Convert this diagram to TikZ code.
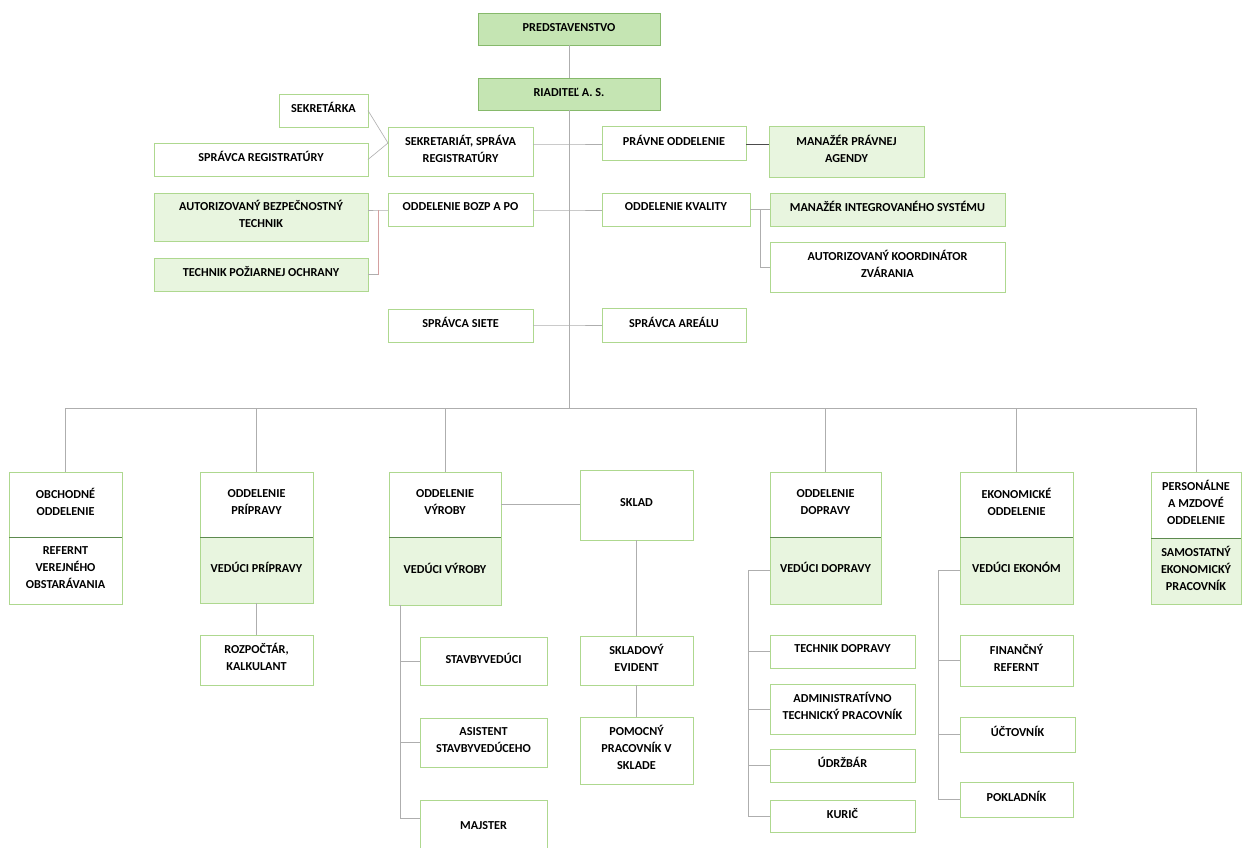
\documentclass[tikz,border=0pt]{standalone}
\usepackage{fontspec}
\setmainfont{Carlito}
\usetikzlibrary{calc}
\definecolor{bordergreen}{HTML}{AED88F}
\definecolor{topfill}{HTML}{C5E5B3}
\definecolor{topdraw}{HTML}{86B96B}
\definecolor{lightfill}{HTML}{E8F5DF}
\definecolor{divider}{HTML}{5D8A4F}
\definecolor{conn}{HTML}{AEAEAE}
\definecolor{pinkconn}{HTML}{D4A0A0}
\newcommand{\orgfont}{\fontsize{12.2}{17}\selectfont\bfseries}
\newcommand{\orgbox}[7]{%
  \pgfmathsetmacro{\obw}{#5-#3}\pgfmathsetmacro{\obh}{#6-#4}%
  \node[#1, minimum width=\obw pt, minimum height=\obh pt, anchor=north west] (#2) at (#3,#4) {#7};}
\begin{document}
\begin{tikzpicture}[x=1pt,y=-1pt,
  box/.style={draw=bordergreen, line width=0.7pt, fill=white, align=center, inner sep=2pt, outer sep=0pt, font=\orgfont, text depth=6pt},
  gbox/.style={box, fill=lightfill},
  tbox/.style={box, fill=topfill, draw=topdraw, line width=1pt, text depth=3pt},
  link/.style={draw=conn, line width=0.6pt},
  darklink/.style={draw=black!70, line width=1pt},
  pinklink/.style={draw=pinkconn, line width=0.6pt},
  divline/.style={draw=divider, line width=1pt}]
\useasboundingbox[fill=white] (0,0) rectangle (1245,847);

% --- top ---
\orgbox{tbox}{pred}{478}{13}{660}{45}{PREDSTAVENSTVO}
\orgbox{tbox}{riad}{478}{78}{660}{110}{RIADITEĽ A. S.}

\orgbox{box}{sekr}{279}{94}{368}{127}{SEKRETÁRKA}
\orgbox{box}{sreg}{154}{143}{368}{176}{SPRÁVCA REGISTRATÚRY}
\orgbox{box}{sekt}{388}{127}{533}{176}{SEKRETARIÁT, SPRÁVA\\REGISTRATÚRY}
\orgbox{box}{prav}{602}{126}{746}{160}{PRÁVNE ODDELENIE}
\orgbox{gbox}{manp}{769}{126}{924}{177}{MANAŽÉR PRÁVNEJ\\AGENDY}

\orgbox{box}{bozp}{388}{193}{533}{226}{ODDELENIE BOZP A PO}
\orgbox{gbox}{abt}{154}{193}{368}{241}{AUTORIZOVANÝ BEZPEČNOSTNÝ\\TECHNIK}
\orgbox{gbox}{tpo}{154}{258}{368}{291}{TECHNIK POŽIARNEJ OCHRANY}
\orgbox{box}{kval}{602}{193}{750}{226}{ODDELENIE KVALITY}
\orgbox{gbox}{mis}{770}{193}{1005}{226}{MANAŽÉR INTEGROVANÉHO SYSTÉMU}
\orgbox{box}{akz}{770}{242}{1005}{292}{AUTORIZOVANÝ KOORDINÁTOR\\ZVÁRANIA}

\orgbox{box}{ssie}{388}{309}{533}{342}{SPRÁVCA SIETE}
\orgbox{box}{sare}{602}{308}{746}{342}{SPRÁVCA AREÁLU}

% --- departments ---
\orgbox{box}{obch}{9}{472}{122}{537}{OBCHODNÉ\\ODDELENIE}
\orgbox{box}{obchh}{9}{537}{122}{604}{REFERNT\\VEREJNÉHO\\OBSTARÁVANIA}
\orgbox{box}{prip}{200}{472}{313}{537}{ODDELENIE\\PRÍPRAVY}
\orgbox{gbox}{priph}{200}{537}{313}{603}{VEDÚCI PRÍPRAVY}
\orgbox{box}{vyr}{389}{472}{501}{537}{ODDELENIE\\VÝROBY}
\orgbox{gbox}{vyrh}{389}{537}{501}{605}{VEDÚCI VÝROBY}
\orgbox{box}{sklad}{580}{470}{693}{540}{SKLAD}
\orgbox{box}{dopr}{770}{472}{881}{537}{ODDELENIE\\DOPRAVY}
\orgbox{gbox}{doprh}{770}{537}{881}{604}{VEDÚCI DOPRAVY}
\orgbox{box}{ekon}{960}{472}{1073}{537}{EKONOMICKÉ\\ODDELENIE}
\orgbox{gbox}{ekonh}{960}{537}{1073}{604}{VEDÚCI EKONÓM}
\orgbox{box}{pers}{1151}{472}{1241}{538}{PERSONÁLNE\\A MZDOVÉ\\ODDELENIE}
\orgbox{gbox}{persh}{1151}{538}{1241}{604}{SAMOSTATNÝ\\EKONOMICKÝ\\PRACOVNÍK}

\foreach \n in {obchh,priph,vyrh,doprh,ekonh,persh}
  \draw[divline] (\n.north west) -- (\n.north east);

% --- subordinates ---
\orgbox{box}{rozp}{200}{635}{313}{685}{ROZPOČTÁR,\\KALKULANT}
\orgbox{box}{stav}{420}{637}{547}{685}{STAVBYVEDÚCI}
\orgbox{box}{asis}{420}{718}{547}{767}{ASISTENT\\STAVBYVEDÚCEHO}
\orgbox{box}{majs}{420}{800}{547}{856}{MAJSTER}
\orgbox{box}{skev}{580}{636}{693}{685}{SKLADOVÝ\\EVIDENT}
\orgbox{box}{pomo}{580}{717}{693}{784}{POMOCNÝ\\PRACOVNÍK V\\SKLADE}
\orgbox{box}{tdop}{770}{635}{915}{668}{TECHNIK DOPRAVY}
\orgbox{box}{admi}{770}{684}{915}{734}{ADMINISTRATÍVNO\\TECHNICKÝ PRACOVNÍK}
\orgbox{box}{udrz}{770}{749}{915}{782}{ÚDRŽBÁR}
\orgbox{box}{kuri}{770}{800}{915}{832}{KURIČ}
\orgbox{box}{finr}{960}{635}{1073}{686}{FINANČNÝ\\REFERNT}
\orgbox{box}{uctv}{960}{717}{1075}{752}{ÚČTOVNÍK}
\orgbox{box}{pokl}{960}{782}{1073}{817}{POKLADNÍK}

% --- spine coordinates ---
\coordinate (s1) at (569,144);
\coordinate (s2) at (569,210);
\coordinate (s3) at (569,325);
\coordinate (busL) at (65.5,408);
\coordinate (busR) at (1196,408);
\coordinate (busC) at (569,408);
\coordinate (sektin) at (388,143);
\coordinate (b1) at (378,210);
\coordinate (k1) at (760,209.5);
\coordinate (v1) at (400,605);
\coordinate (d1) at (748,570.5);
\coordinate (e1) at (938,570.5);

% --- connectors ---
\draw[link] (pred.south) -- (riad.north);
\draw[link] (riad.south) -- (busC);
\draw[link] (busL) -- (busR);

\draw[link] (sekr.east) -- (sektin);
\draw[link] (sreg.east) -- (sektin);
\draw[link] (sekt.east |- s1) -- (s1) -- (prav.west |- s1);
\draw[darklink] (prav.east |- s1) -- (manp.west |- s1);

\draw[link] (bozp.east |- s2) -- (s2) -- (kval.west |- s2);
\draw[link] (bozp.west |- b1) -- (b1) -- (abt.east |- b1);
\draw[pinklink] (b1) -- (b1 |- tpo.east);
\draw[link] (b1 |- tpo.east) -- (tpo.east);

\draw[link] (kval.east) -- (k1) -- (mis.west);
\draw[link] (k1) -- (k1 |- akz.west) -- (akz.west);

\draw[link] (ssie.east |- s3) -- (s3) -- (sare.west |- s3);

\foreach \n in {obch,prip,vyr,dopr,ekon,pers}
  \draw[link] (\n.north |- busL) -- (\n.north);

\draw[link] (vyr.east) -- (sklad.west |- vyr.east);
\draw[link] (priph.south) -- (rozp.north);
\draw[link] (sklad.south) -- (skev.north);
\draw[link] (skev.south) -- (pomo.north);

\coordinate (m1) at ($(majs.north west)+(0,18)$);
\draw[link] (v1) -- (v1 |- m1) -- (m1);
\draw[link] (v1 |- stav.west) -- (stav.west);
\draw[link] (v1 |- asis.west) -- (asis.west);

\draw[link] (doprh.west) -- (d1) -- (d1 |- kuri.west) -- (kuri.west);
\foreach \n in {tdop,admi,udrz}
  \draw[link] (d1 |- \n.west) -- (\n.west);

\draw[link] (ekonh.west) -- (e1) -- (e1 |- pokl.west) -- (pokl.west);
\foreach \n in {finr,uctv}
  \draw[link] (e1 |- \n.west) -- (\n.west);
\end{tikzpicture}
\end{document}
